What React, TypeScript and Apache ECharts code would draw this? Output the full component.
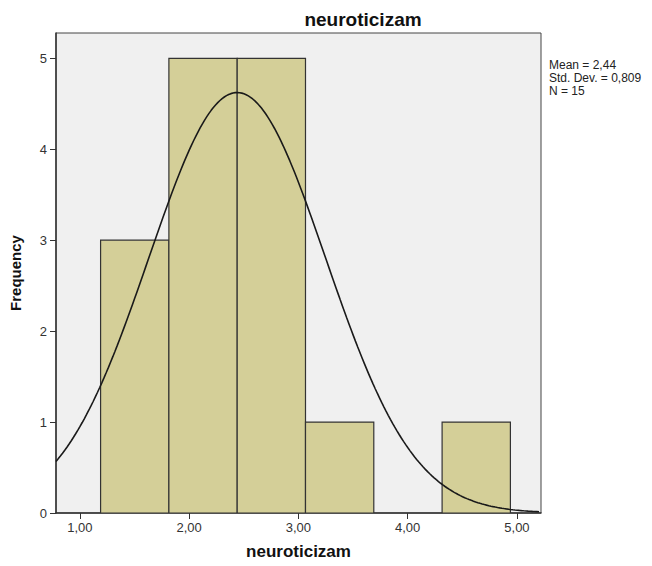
import React, { useEffect, useRef } from "react";
import * as echarts from "echarts";

const binEdges = [1.19, 1.815, 2.44, 3.065, 3.69, 4.315, 4.94];
const binCounts = [3, 5, 5, 1, 0, 1];
const xTicks = [1, 2, 3, 4, 5];
const yTicks = [0, 1, 2, 3, 4, 5];
const statsMean = 2.44;
const statsSd = 0.809;
const statsN = 15;
const titleText = "neuroticizam";

const X_MIN = 0.782;
const X_MAX = 5.22;
const Y_MAX = 5.278;

export default function App() {
  const ref = useRef<HTMLDivElement>(null);
  useEffect(() => {
    if (!ref.current) return;
    const chart = echarts.init(ref.current, null, { renderer: "svg" });
    const bars = binCounts.map((c, i) => [binEdges[i], binEdges[i + 1], c]).filter((d) => d[2] > 0);
    const binWidth = (binEdges[binEdges.length - 1] - binEdges[0]) / binCounts.length;
    const curve: number[][] = [];
    for (let x = X_MIN; x <= X_MAX + 1e-9; x += 0.02) {
      const z = (x - statsMean) / statsSd;
      const y = (statsN * binWidth) / (statsSd * Math.sqrt(2 * Math.PI)) * Math.exp(-0.5 * z * z);
      curve.push([x, y]);
    }
    const font = "Arial, 'Liberation Sans', sans-serif";
    chart.setOption({
      animation: false,
      backgroundColor: "#ffffff",
      title: {
        text: titleText,
        left: 358,
        textAlign: "center",
        top: 5,
        textStyle: { fontFamily: font, fontSize: 19, fontWeight: "bold", color: "#111" },
      },
      grid: {
        left: 52,
        right: 111,
        top: 33,
        bottom: 53,
        show: true,
        backgroundColor: "#f0f0f0",
        borderColor: "#444",
        borderWidth: 1,
      },
      xAxis: {
        type: "value",
        min: X_MIN,
        max: X_MAX,
        name: titleText,
        nameLocation: "middle",
        nameGap: 30,
        nameTextStyle: { fontFamily: font, fontSize: 17, fontWeight: "bold", color: "#111" },
        splitLine: { show: false },
        axisLine: { show: true, lineStyle: { color: "#333", width: 1.5 } },
        axisTick: { show: true, length: 6, customValues: xTicks, lineStyle: { color: "#333" } },
        axisLabel: {
          customValues: xTicks,
          formatter: (v: number) => v.toFixed(2).replace(".", ","),
          fontFamily: font,
          fontSize: 13,
          color: "#333",
          margin: 8,
        },
      },
      yAxis: {
        type: "value",
        min: 0,
        max: Y_MAX,
        name: "Frequency",
        nameLocation: "middle",
        nameGap: 33,
        nameRotate: 90,
        nameTextStyle: { fontFamily: font, fontSize: 15, fontWeight: "bold", color: "#111" },
        splitLine: { show: false },
        axisLine: { show: true, lineStyle: { color: "#333", width: 1.5 } },
        axisTick: { show: true, length: 6, customValues: yTicks, lineStyle: { color: "#333" } },
        axisLabel: {
          customValues: yTicks,
          fontFamily: font,
          fontSize: 13,
          color: "#333",
          margin: 9,
        },
      },
      graphic: [
        {
          type: "text",
          left: 549,
          top: 58,
          style: {
            text: `Mean = ${statsMean.toFixed(2).replace(".", ",")}\nStd. Dev. = ${statsSd
              .toFixed(3)
              .replace(".", ",")}\nN = ${statsN}`,
            font: `12px ${font}`,
            fill: "#222",
            lineHeight: 13,
          },
        },
      ],
      series: [
        {
          type: "custom",
          data: bars,
          clip: true,
          renderItem: (params: any, api: any) => {
            const p0 = api.coord([api.value(0), api.value(2)]);
            const p1 = api.coord([api.value(1), 0]);
            return {
              type: "rect",
              shape: { x: p0[0], y: p0[1], width: p1[0] - p0[0], height: p1[1] - p0[1] },
              style: { fill: "#d4cf98", stroke: "#333", lineWidth: 1.2 },
            };
          },
          encode: { x: [0, 1], y: 2 },
          z: 2,
        },
        {
          type: "line",
          data: curve,
          showSymbol: false,
          smooth: false,
          clip: true,
          lineStyle: { color: "#1a1a1a", width: 1.6 },
          z: 3,
        },
      ],
    });
    return () => chart.dispose();
  }, []);
  return <div ref={ref} style={{ width: 652, height: 566, position: "absolute", left: 0, top: 0 }} />;
}
